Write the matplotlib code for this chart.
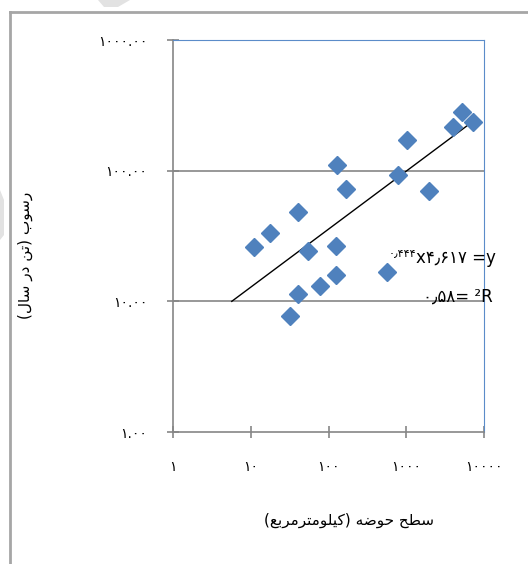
import numpy as np
import matplotlib
matplotlib.use('Agg')
import matplotlib.pyplot as plt
from matplotlib.lines import Line2D
from matplotlib.patches import Polygon

# basin area (km2) vs. annual sediment load (t/yr)
basin_area = [10.9, 17.8, 40.5, 54.4, 125.6, 128, 167, 40.5, 78.2, 124.5,
              32.2, 562, 792, 1033, 1980, 4030, 5250, 7270]
sediment = [26.2, 33.2, 48.5, 24.3, 26.7, 110.5, 72.4, 11.4, 13.1, 15.8,
            7.7, 16.8, 92.7, 171.7, 70.3, 214.6, 282.6, 234.5]

# power trendline  y = a * x^b
trend_a = 4.617
trend_b = 0.444
trend_r2 = 0.58
trend_x_start = 5.7

x_ticks = [1, 10, 100, 1000, 10000]
y_ticks = [1, 10, 100, 1000]

x_title = 'سطح حوضه (کیلومترمربع)'
y_title = 'رسوب (تن در سال)'

# contextual forms: (isolated, final, initial, medial)
FORMS = {
    'ا': ('\uFE8D', '\uFE8E'),
    'ب': ('\uFE8F', '\uFE90', '\uFE91', '\uFE92'),
    'ت': ('\uFE95', '\uFE96', '\uFE97', '\uFE98'),
    'ح': ('\uFEA1', '\uFEA2', '\uFEA3', '\uFEA4'),
    'د': ('\uFEA9', '\uFEAA'),
    'ر': ('\uFEAD', '\uFEAE'),
    'س': ('\uFEB1', '\uFEB2', '\uFEB3', '\uFEB4'),
    'ض': ('\uFEBD', '\uFEBE', '\uFEBF', '\uFEC0'),
    'ط': ('\uFEC1', '\uFEC2', '\uFEC3', '\uFEC4'),
    'ع': ('\uFEC9', '\uFECA', '\uFECB', '\uFECC'),
    'ل': ('\uFEDD', '\uFEDE', '\uFEDF', '\uFEE0'),
    'م': ('\uFEE1', '\uFEE2', '\uFEE3', '\uFEE4'),
    'ن': ('\uFEE5', '\uFEE6', '\uFEE7', '\uFEE8'),
    'ه': ('\uFEE9', '\uFEEA', '\uFEEB', '\uFEEC'),
    'و': ('\uFEED', '\uFEEE'),
    'ک': ('\uFB8E', '\uFB8F', '\uFB90', '\uFB91'),
    'ی': ('\uFBFC', '\uFBFD', '\uFBFE', '\uFBFF'),
}


def shape_rtl(text):
    # matplotlib has no text shaping, so pick the joined forms by hand
    out = []
    for i, ch in enumerate(text):
        if ch not in FORMS:
            out.append(ch)
            continue
        prev = text[i - 1] if i > 0 else ''
        nxt = text[i + 1] if i + 1 < len(text) else ''
        join_prev = prev in FORMS and len(FORMS[prev]) == 4
        join_next = nxt in FORMS and len(FORMS[ch]) == 4
        f = FORMS[ch]
        if join_prev and join_next:
            out.append(f[3])
        elif join_prev:
            out.append(f[1])
        elif join_next:
            out.append(f[2])
        else:
            out.append(f[0])
    mirror = {'(': ')', ')': '('}
    return ''.join(mirror.get(c, c) for c in reversed(out))


FA_DIGITS = str.maketrans('0123456789', '۰۱۲۳۴۵۶۷۸۹')


def fa(s):
    return str(s).translate(FA_DIGITS)


plt.rcParams['font.family'] = ['DejaVu Sans']

W, H = 528, 564
fig = plt.figure(figsize=(W / 100, H / 100), dpi=100)
ax = fig.add_axes([173 / W, 1 - 432 / H, (484 - 173) / W, (432 - 40) / H])

blue = '#4f81bd'
grey = '#868686'

ax.set_xscale('log')
ax.set_yscale('log')
ax.set_xlim(x_ticks[0], x_ticks[-1])
ax.set_ylim(y_ticks[0], y_ticks[-1])

for v in y_ticks[1:-1]:
    ax.axhline(v, color=grey, lw=1.2, zorder=1)

ax.plot(basin_area, sediment, linestyle='none', marker='D', ms=9,
        color=blue, mec=blue, zorder=3)

tx = np.logspace(np.log10(trend_x_start), np.log10(max(basin_area)), 100)
ax.plot(tx, trend_a * tx ** trend_b, color='black', lw=1.0, zorder=2)

ax.set_xticks(x_ticks)
ax.set_xticklabels([fa(v) for v in x_ticks])
ax.set_yticks(y_ticks)
ax.set_yticklabels([fa(f'{v:.2f}') for v in y_ticks])
ax.minorticks_off()
ax.tick_params(axis='both', direction='inout', length=9, width=1.2,
               color=grey, labelsize=10, labelcolor='black')
ax.tick_params(axis='x', pad=16)
ax.tick_params(axis='y', pad=14)

ax.spines['left'].set_color(grey)
ax.spines['bottom'].set_color(grey)
ax.spines['left'].set_linewidth(1.2)
ax.spines['bottom'].set_linewidth(1.2)
ax.spines['top'].set_color('#5b8cc9')
ax.spines['right'].set_color('#5b8cc9')

# trendline equation, written right-to-left
a_txt = fa(f'{trend_a:.3f}').replace('.', '٫')
b_txt = fa(f'{trend_b:.3f}').replace('.', '٫')
r_txt = fa(f'{trend_r2:.2f}').replace('.', '٫')
eq = fig.text(496 / W, 1 - 258 / H, f'x{a_txt} =y', ha='right', va='center',
              fontsize=12)
ax.annotate(b_txt, xy=(0, 0.7), xycoords=eq, ha='right', va='center',
            fontsize=8)
fig.text(493 / W, 1 - 297 / H, f'{r_txt}= ²R', ha='right', va='center',
         fontsize=12)

fig.text(349 / W, 1 - 520 / H, shape_rtl(x_title), ha='center', va='center',
         fontsize=11)
fig.text(25 / W, 1 - 255 / H, shape_rtl(y_title), ha='center', va='center',
         rotation=90, fontsize=11)

# chart frame and faint background shapes
frame = '#a6a6a6'
fig.add_artist(Line2D([9.5 / W, 9.5 / W], [0, 1 - 12 / H], color=frame, lw=2))
fig.add_artist(Line2D([9.5 / W, 1], [1 - 12 / H, 1 - 12 / H], color=frame, lw=2))
fig.add_artist(Polygon([[98 / W, 1], [130 / W, 1], [118 / W, 1 - 7 / H],
                        [104 / W, 1 - 7 / H]], closed=True,
                       transform=fig.transFigure, color='#e2e2e2', lw=0))
fig.add_artist(Polygon([[0, 1 - 190 / H], [4 / W, 1 - 200 / H],
                        [4 / W, 1 - 235 / H], [0, 1 - 240 / H]], closed=True,
                       transform=fig.transFigure, color='#e2e2e2', lw=0))

fig.savefig('out.png', dpi=100, facecolor='white')
